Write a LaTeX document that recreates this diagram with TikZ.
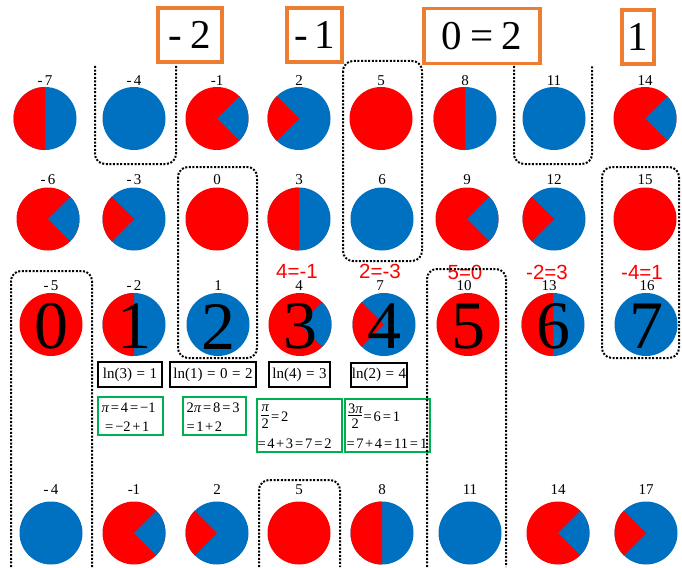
\documentclass[tikz,border=0pt]{standalone}
\usepackage{fontspec}
\usetikzlibrary{calc}
\setmainfont{Liberation Serif}
\newfontfamily\redsans{Liberation Sans}
\definecolor{cred}{RGB}{255,0,0}
\definecolor{cblue}{RGB}{0,112,192}
\definecolor{corange}{RGB}{237,125,49}
\definecolor{cgreen}{RGB}{0,176,80}
\newcommand\rr{31.5}
\newcommand\fullred[1]{\fill[cred] (#1) circle[radius=\rr];}
\newcommand\fullblue[1]{\fill[cblue] (#1) circle[radius=\rr];}
\newcommand\halfrb[1]{\fill[cblue] (#1) circle[radius=\rr];
  \fill[cred] (#1) -- ++(90:\rr) arc[start angle=90,end angle=270,radius=\rr] -- cycle;}
\newcommand\redbw[1]{\fill[cred] (#1) circle[radius=\rr];
  \fill[cblue] (#1) -- ++(-45:\rr) arc[start angle=-45,end angle=45,radius=\rr] -- cycle;}
\newcommand\bluerw[1]{\fill[cblue] (#1) circle[radius=\rr];
  \fill[cred] (#1) -- ++(135:\rr) arc[start angle=135,end angle=225,radius=\rr] -- cycle;}
\newcommand\Eq{\kern0.3em=\kern0.3em}
\newcommand\eqq{\kern0.13em=\kern0.13em}
\newcommand\pll{\kern0.11em+\kern0.11em}
\begin{document}
\begin{tikzpicture}[x=1pt,y=-1pt,
  lbl/.style={inner sep=0pt, font=\fontsize{15}{15}\selectfont},
  rlbl/.style={inner sep=0pt, text=cred, font=\redsans\fontsize{20.5}{20.5}\selectfont},
  big/.style={inner sep=0pt, font=\fontsize{68}{68}\selectfont},
  obox/.style={draw=corange, line width=3.5pt, inner sep=0pt, font=\fontsize{41}{41}\selectfont},
  lnbox/.style={draw=black, line width=2.5pt, inner sep=0pt, font=\fontsize{15}{15}\selectfont},
  gbox/.style={draw=cgreen, line width=2.2pt, inner sep=0pt},
  gtxt/.style={inner sep=0pt, anchor=west, font=\fontsize{14.5}{14.5}\selectfont},
  dotbox/.style={line width=2pt, dash pattern=on 2pt off 1.6pt, rounded corners=10pt}]
\useasboundingbox[fill=white] (0,0) rectangle (682,567);

% coordinates of circle centres
\foreach \n/\x in {1/45,2/134,3/217,4/299,5/381,6/465,7/554,8/645}{\coordinate (r1c\n) at (\x,118.5);}
\foreach \n/\x in {1/48,2/134,3/217,4/299,5/382,6/467,7/554,8/645}{\coordinate (r2c\n) at (\x,219);}
\foreach \n/\x in {1/51,2/134,3/218,4/300,5/384,6/468,7/553,8/646}{\coordinate (r3c\n) at (\x,324.5);}
\foreach \n/\x in {1/51,2/134,3/217,4/299,5/382,6/470,7/558,8/646}{\coordinate (r4c\n) at (\x,533);}

% row 1
\halfrb{r1c1} \fullblue{r1c2} \redbw{r1c3} \bluerw{r1c4}
\fullred{r1c5} \halfrb{r1c6} \fullblue{r1c7} \redbw{r1c8}
% row 2
\redbw{r2c1} \bluerw{r2c2} \fullred{r2c3} \halfrb{r2c4}
\fullblue{r2c5} \redbw{r2c6} \bluerw{r2c7} \fullred{r2c8}
% row 3
\fullred{r3c1} \halfrb{r3c2} \fullblue{r3c3} \redbw{r3c4}
\bluerw{r3c5} \fullred{r3c6} \halfrb{r3c7} \fullblue{r3c8}
% row 4
\fullblue{r4c1} \redbw{r4c2} \bluerw{r4c3} \fullred{r4c4}
\halfrb{r4c5} \fullblue{r4c6} \redbw{r4c7} \bluerw{r4c8}

% big digits
\foreach \n/\d in {1/0,2/1,3/2,4/3,5/4,6/5,7/6,8/7}{\node[big] (d\n) at ($(r3c\n)+(0,2)$) {\d};}

% small labels
\foreach \n/\x/\t in {1/45/{-\,7},2/134/{-\,4},3/217/{-1},4/299/2,5/381/5,6/465/8,7/554/11,8/645/14}
  {\node[lbl] (a\n) at (\x,81) {\t};}
\foreach \n/\x/\t in {1/48/{-\,6},2/134/{-\,3},3/217/0,4/299/3,5/382/6,6/467/9,7/554/12,8/645/15}
  {\node[lbl] (b\n) at (\x,180) {\t};}
% red labels
\node[rlbl] (e4) at (297,271.5) {4=-1};
\node[rlbl] (e5) at (380,271.5) {2=-3};
\node[rlbl] (e6) at (465,272) {5=0};
\node[rlbl] (e7) at (547,272) {-2=3};
\node[rlbl] (e8) at (642,272) {-4=1};
\foreach \n/\x/\t in {1/51/{-\,5},2/134/{-\,2},3/218/1,4/299/4,5/380/7,6/464/10,7/549/13,8/647/16}
  {\node[lbl] (c\n) at (\x,286) {\t};}
\foreach \n/\x/\t in {1/51/{-\,4},2/134/{-1},3/217/2,4/299/5,5/382/8,6/470/11,7/558/14,8/646/17}
  {\node[lbl] (f\n) at (\x,490) {\t};}

% orange boxes
\node[obox, minimum width=64pt, minimum height=54pt] (o1) at (190,35) {-\kern0.2em2};
\node[obox, minimum width=55pt, minimum height=54pt] (o2) at (314.5,35) {-\kern0.15em1};
\node[obox, minimum width=116pt, minimum height=55pt] (o3) at (482,36) {0\kern0.2em=\kern0.2em2};
\node[obox, minimum width=32pt, minimum height=54pt] (o4) at (638,37) {1};

% ln boxes
\node[lnbox, minimum width=64pt, minimum height=25pt] (ln1) at (130,374.5) {ln(3)\Eq1};
\node[lnbox, minimum width=86pt, minimum height=25pt] (ln2) at (213,374.5) {ln(1)\Eq0\Eq2};
\node[lnbox, minimum width=61pt, minimum height=25pt] (ln3) at (299.5,374.5) {ln(4)\Eq3};
\node[lnbox, minimum width=56pt, minimum height=24pt] (ln4) at (379,375) {ln(2)\Eq4};

% green boxes
\node[gbox, minimum width=65pt, minimum height=38pt] (g1) at (130.5,416) {};
\node[gbox, minimum width=63pt, minimum height=38pt] (g2) at (214.5,416) {};
\node[gbox, minimum width=85pt, minimum height=53pt] (g3) at (299.5,425.5) {};
\node[gbox, minimum width=85pt, minimum height=53pt] (g4) at (387.5,425.5) {};

\node[gtxt] (t11) at (101.5,408) {\itshape π\upshape\eqq4\eqq−1};
\node[gtxt] (t12) at (105,427) {=\kern0.13em−2\pll1};
\node[gtxt] (t21) at (186.5,408) {2\itshape π\upshape\eqq8\eqq3};
\node[gtxt] (t22) at (186.5,427) {=\kern0.1em1\pll2};
\node[gtxt] (t31n) at (261.5,408.5) {\itshape π};
\node[gtxt] (t31d) at (261.5,423.5) {2};
\draw[line width=0.6pt] (261,415.5) -- (269,415.5);
\node[gtxt] (t31r) at (269,416.5) {\eqq2};
\node[gtxt] (t32) at (257.5,443.5) {=\kern0.1em4\pll3\eqq7\eqq2};
\node[gtxt] (t41n) at (348,408.5) {3\itshape π};
\node[gtxt] (t41d) at (351.5,423.5) {2};
\draw[line width=0.6pt] (348,415.5) -- (361.5,415.5);
\node[gtxt] (t41r) at (361.5,416.5) {\eqq6\eqq1};
\node[gtxt] (t42) at (346.5,443.5) {=\kern0.1em7\pll4\eqq11\eqq1};

% dotted groupings
\draw[dotbox] (95,66) -- (95,164) -- (176,164) -- (176,66);
\draw[dotbox] (514,66) -- (514,164) -- (592,164) -- (592,66);
\draw[dotbox] (343,61) rectangle (422,261);
\draw[dotbox] (178,167) rectangle (257,358);
\draw[dotbox] (602,167) rectangle (679,358);
\draw[dotbox] (11,567) -- (11,271) -- (92,271) -- (92,567);
\draw[dotbox] (427,567) -- (427,269) -- (506,269) -- (506,567);
\draw[dotbox] (259,567) -- (259,480) -- (340,480) -- (340,567);
\end{tikzpicture}
\end{document}
